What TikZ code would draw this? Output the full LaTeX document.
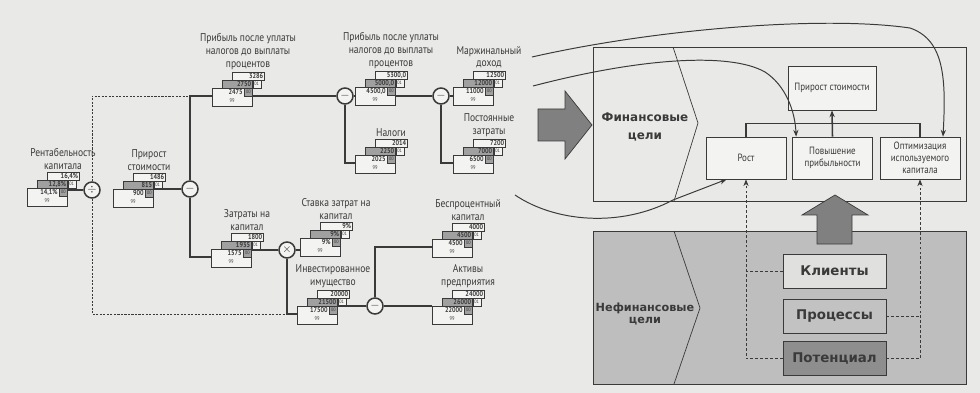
\documentclass[tikz,border=0pt]{standalone}
\usepackage{fontspec}
\setmainfont{PT Sans}[FakeStretch=0.85]
\newfontfamily\widebf{DejaVu Sans}
\usetikzlibrary{arrows.meta,calc}
\definecolor{pagecol}{RGB}{233,233,231}
\definecolor{inkcol}{RGB}{58,58,58}
\definecolor{boxcol}{RGB}{243,243,241}
\definecolor{midgray}{RGB}{160,160,160}
\definecolor{nfcol}{RGB}{190,190,190}
\definecolor{klicol}{RGB}{224,224,222}
\definecolor{proccol}{RGB}{194,194,194}
\definecolor{potcol}{RGB}{142,142,142}
\definecolor{arrcol}{RGB}{128,128,128}

% value group: name, anchor, label, plan, 01, 00
\newcommand{\kpigrp}[6]{%
  \begin{scope}[shift={#2}]
    \node[kbox,minimum width=1cm,minimum height=0.45cm] (#1) at (0,-8) {};
    \node[tagbox,fill=midgray,anchor=north east] (#1-t0) at (#1.north east) {00};
    \node[numtxt,anchor=east] (#1-v0) at (#1-t0.west) {#6};
    \node[tagtxt] (#1-yr) at (20,5) {99};
    \node[kbox,fill=midgray,minimum width=0.75cm,minimum height=0.2cm] (#1-b) at (10,-16) {};
    \node[tagbox,anchor=north west] (#1-t1) at (#1-b.north east) {01};
    \node[numtxt,anchor=east] (#1-v1) at (#1-b.east) {#5};
    \node[kbox,minimum width=0.8cm,minimum height=0.2cm] (#1-c) at (20,-24) {};
    \node[numtxt,anchor=east] (#1-v2) at (#1-c.east) {#4};
    \node[lbl,anchor=south] (#1-l) at (36,-25) {#3};
    \coordinate (#1-w) at (0,0);
    \coordinate (#1-e) at (40,0);
  \end{scope}}

\begin{document}
\begin{tikzpicture}[x=0.025cm,y=-0.025cm,
  >={Stealth[length=1.7mm,width=1.3mm]},
  kbox/.style={draw=inkcol,line width=0.35pt,fill=boxcol,anchor=north west,inner sep=0pt},
  tagbox/.style={draw=inkcol,line width=0.3pt,fill=boxcol,inner sep=0pt,
                 minimum width=0.2cm,minimum height=0.2cm,text=inkcol,
                 font=\fontsize{3.5}{4}\selectfont},
  numtxt/.style={inner sep=0.8pt,text=inkcol,font=\bfseries\fontsize{5.2}{6}\selectfont},
  tagtxt/.style={inner sep=0pt,text=inkcol,font=\fontsize{3.8}{4}\selectfont},
  lbl/.style={align=center,inner sep=1pt,text=inkcol,font=\fontsize{8}{9}\selectfont},
  opc/.style={circle,draw=inkcol,line width=1.1pt,fill=boxcol,minimum size=0.4cm,
              inner sep=0pt,text=inkcol,font=\footnotesize},
  conn/.style={draw=inkcol,line width=0.8pt},
  dconn/.style={draw=inkcol,line width=0.5pt,dash pattern=on 1.5pt off 1pt},
  frame/.style={draw=inkcol,line width=0.5pt},
  goalbox/.style={draw=inkcol,line width=0.5pt,fill=boxcol,align=center,inner sep=1pt,
                  minimum width=2cm,minimum height=1.05cm,text=inkcol,
                  font=\fontsize{7.5}{8.6}\selectfont},
  nfbox/.style={draw=inkcol,line width=0.5pt,minimum width=2.575cm,minimum height=0.85cm,
                text=inkcol,font=\widebf\bfseries\fontsize{9.5}{10}\selectfont},
  goaltxt/.style={align=center,text=inkcol,font=\widebf\bfseries\fontsize{8.5}{13}\selectfont},
  curv/.style={draw=inkcol,line width=0.7pt,->},
  brk/.style={draw=inkcol,line width=1.1pt},
  dsh/.style={draw=inkcol,line width=0.6pt,dash pattern=on 2pt off 1.5pt},
]
\fill[pagecol] (0,0) rectangle (980,393);
\useasboundingbox (0,0) rectangle (980,393);

% --- operators ---
\node[opc] (o1) at (92,190) {$\div$};
\node[opc] (o2) at (190,189) {$-$};
\node[opc] (o3) at (345,96) {$-$};
\node[opc] (o4) at (441,96) {$-$};
\node[opc] (o5) at (287,250) {$\times$};
\node[opc] (o6) at (375,306) {$-$};

% --- value tree ---
\kpigrp{roe}{(27,196)}{Рентабельность\\капитала}{16,4\%}{12,8\%}{14,1\%}
\kpigrp{va}{(113,197)}{Прирост\\стоимости}{1486}{815}{900}
\kpigrp{nopat}{(212,96)}{Прибыль после уплаты\\налогов до выплаты\\процентов}{3286}{2750}{2475}
\kpigrp{ebit}{(355,95)}{Прибыль после уплаты\\налогов до выплаты\\процентов}{5300,0}{5000,0}{4500,0}
\kpigrp{tax}{(355,163)}{Налоги}{2014}{2250}{2025}
\kpigrp{cm}{(453,95)}{Маржинальный\\доход}{12500}{12000}{11000}
\kpigrp{fix}{(453,163)}{Постоянные\\затраты}{7200}{7000}{6500}
\kpigrp{cc}{(211,257)}{Затраты на\\капитал}{1800}{1935}{1575}
\kpigrp{wacc}{(300,246)}{Ставка затрат на\\капитал}{9\%}{9\%}{9\%}
\kpigrp{ic}{(297,314)}{Инвестированное\\имущество}{20000}{21500}{17500}
\kpigrp{nic}{(432,247)}{Беспроцентный\\капитал}{4000}{4500}{4500}
\kpigrp{ta}{(432,314)}{Активы\\предприятия}{24000}{26000}{22000}

% --- tree links ---
\draw[dconn] (o1.north) |- (nopat-w);
\draw[dconn] (o1.south) |- (ic-w);
\draw[conn] (roe-e |- o1.west) -- (o1.west);
\draw[conn] (va-e |- o2.west) -- (o2.west);
\draw[conn] (o2.north) |- (nopat-w);
\draw[conn] (o2.south) |- (cc-w);
\draw[conn] (nopat-e |- o3.west) -- (o3.west);
\draw[conn] (o3.east) -- (o3.east -| ebit-w);
\draw[conn] (o3.south) |- (tax-w);
\draw[conn] (ebit-e |- o4.west) -- (o4.west);
\draw[conn] (o4.east) -- (o4.east -| cm-w);
\draw[conn] (o4.south) |- (fix-w);
\draw[conn] (cc-e |- o5.west) -- (o5.west);
\draw[conn] (o5.east) -- (o5.east -| wacc-w);
\draw[conn] (o5.south) |- (ic-w);
\draw[conn] (ic-e |- o6.west) -- (o6.west);
\draw[conn] (o6.east) -- (o6.east -| ta-w);
\draw[conn] (o6.north) |- (nic-w);

% --- big arrow ---
\draw[fill=arrcol,draw=inkcol,line width=0.5pt]
  (538,109) -- (565,109) -- (565,91) -- (592,125) -- (565,159) -- (565,141) -- (538,141) -- cycle;

% --- financial goals ---
\draw[frame] (593,47) rectangle (966,201);
\draw[frame] (673,47) -- (698,123) -- (674,201);
\node[goaltxt] (fin) at (645,127) {Финансовые\\цели};
\node[goalbox,minimum width=2.2cm,minimum height=1.1cm] (gain) at (832,88) {Прирост стоимости};
\node[goalbox] (rost) at (746,158) {Рост};
\node[goalbox] (prof) at (832.5,158) {Повышение\\прибыльности};
\node[goalbox] (opt) at (920,158) {Оптимизация\\используемого\\капитала};
\draw[brk] (rost.north) -- ++(0,-13) -| (opt.north);
\draw[brk,->] (prof.north) -- (gain.south);

% --- non-financial goals ---
\draw[frame,fill=nfcol] (593,231) rectangle (966,384);
\draw[frame] (674,231) -- (700,308) -- (674,384);
\node[goaltxt,font=\widebf\bfseries\fontsize{8}{9}\selectfont] (nfin) at (645,314) {Нефинансовые\\цели};
\node[nfbox,fill=klicol] (kli) at (834.5,271) {Клиенты};
\node[nfbox,fill=proccol] (proc) at (834.5,316) {Процессы};
\node[nfbox,fill=potcol] (pot) at (834.5,358.5) {Потенциал};
\draw[dsh,->] (pot.west) -| (rost.south);
\draw[dsh] (kli.west) -- (kli.west -| rost.south);
\draw[dsh,->] (pot.east) -| (opt.south);
\draw[dsh] (proc.east) -- (proc.east -| opt.south);
\draw[fill=arrcol,draw=inkcol,line width=0.5pt]
  (817,244) -- (817,215) -- (802,215) -- (835,195) -- (868,215) -- (852,215) -- (852,244) -- cycle;

% --- links into goals ---
\coordinate (cmA) at (532,57);
\coordinate (cmB) at (533,86);
\coordinate (nicA) at (515,195);
\draw[curv] (cmA) .. controls (650,30) and (820,15) .. (910,28)
  .. controls (945,40) and (946,80) .. ($(opt.north)+(23,0)$);
\draw[curv] (cmB) .. controls (640,58) and (730,52) .. (765,72)
  .. controls (785,85) and (795,110) .. ($(prof.north west)+(4,0)$);
\draw[curv] (nicA) .. controls (555,222) and (620,228) .. (673,200)
  -- ($(rost.south west)+(21,0)$);

\end{tikzpicture}
\end{document}
